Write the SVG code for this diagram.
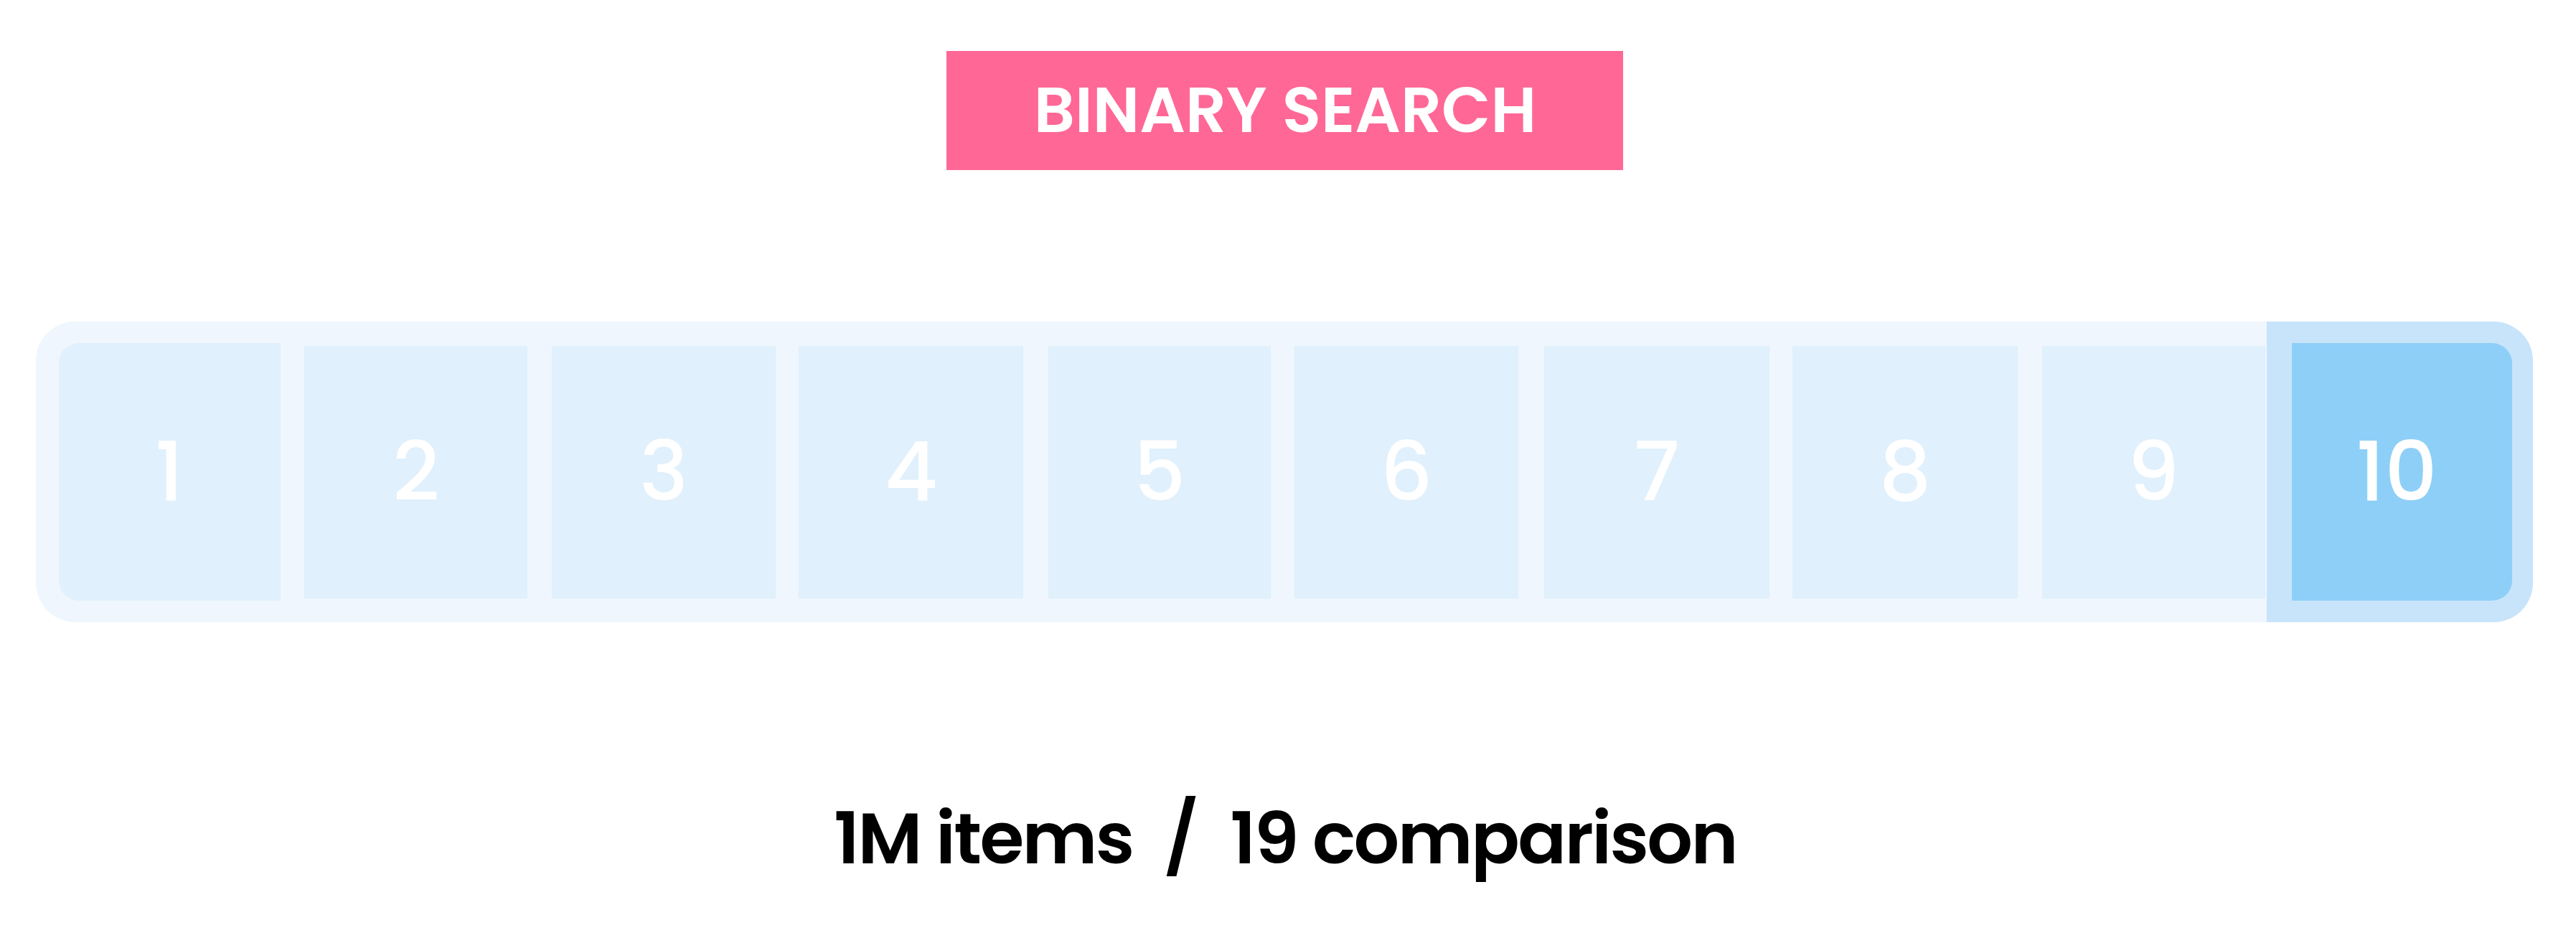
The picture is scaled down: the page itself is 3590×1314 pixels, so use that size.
<svg xmlns="http://www.w3.org/2000/svg" width="3590" height="1314" viewBox="0 0 3590 1314">
<style>
.cell{fill:#e0f0fc}
.num{font-family:Poppins,Inter,"Liberation Sans",sans-serif;font-size:114px;font-weight:500;fill:#ffffff;text-anchor:middle}
.title{font-family:Poppins,Inter,"Liberation Sans",sans-serif;font-size:89px;font-weight:600;fill:#ffffff;text-anchor:middle}
.caption{font-family:Poppins,Inter,"Liberation Sans",sans-serif;font-size:100px;font-weight:600;fill:#000000;letter-spacing:-2.6px}
</style>
<rect width="3590" height="1314" fill="#ffffff"/>
<g id="title">
<rect x="1319" y="71" width="943" height="166" fill="#ff6796"/>
<text class="title" x="1791" y="184">BINARY SEARCH</text>
</g>
<g id="array">
<rect x="50" y="448" width="3480" height="419" rx="55" ry="55" fill="#eff6fd"/>
<path d="M3159 448 H3475 A55 55 0 0 1 3530 503 V812 A55 55 0 0 1 3475 867 H3159 Z" fill="#c8e4fb"/>
</g>
<g id="cell-1">
<path d="M110 478 H391 V837 H110 A28 28 0 0 1 82 809 V506 A28 28 0 0 1 110 478 Z" class="cell"/>
<text class="num" x="236" y="697">1</text>
</g>
<g id="cell-2">
<rect class="cell" x="424" y="482" width="311" height="352"/>
<text class="num" x="580" y="697">2</text>
</g>
<g id="cell-3">
<rect class="cell" x="769" y="482" width="312" height="352"/>
<text class="num" x="925" y="697">3</text>
</g>
<g id="cell-4">
<rect class="cell" x="1113" y="482" width="313" height="352"/>
<text class="num" x="1270" y="697">4</text>
</g>
<g id="cell-5">
<rect class="cell" x="1461" y="482" width="310" height="352"/>
<text class="num" x="1616" y="697">5</text>
</g>
<g id="cell-6">
<rect class="cell" x="1804" y="482" width="312" height="352"/>
<text class="num" x="1960" y="697">6</text>
</g>
<g id="cell-7">
<rect class="cell" x="2152" y="482" width="314" height="352"/>
<text class="num" x="2309" y="697">7</text>
</g>
<g id="cell-8">
<rect class="cell" x="2498" y="482" width="314" height="352"/>
<text class="num" x="2655" y="697">8</text>
</g>
<g id="cell-9">
<rect class="cell" x="2846" y="482" width="311" height="352"/>
<text class="num" x="3001" y="697">9</text>
</g>
<g id="cell-10">
<path d="M3194 478 H3473 A28 28 0 0 1 3501 506 V809 A28 28 0 0 1 3473 837 H3194 Z" fill="#8ecff8"/>
<text class="num" x="3340" y="697">10</text>
</g>
<g id="caption">
<text class="caption" x="1162" y="1203">1M items</text>
<text class="caption" x="1645" y="1203" text-anchor="middle">/</text>
<text class="caption" x="2420" y="1203" text-anchor="end">19 comparison</text>
</g>
</svg>
